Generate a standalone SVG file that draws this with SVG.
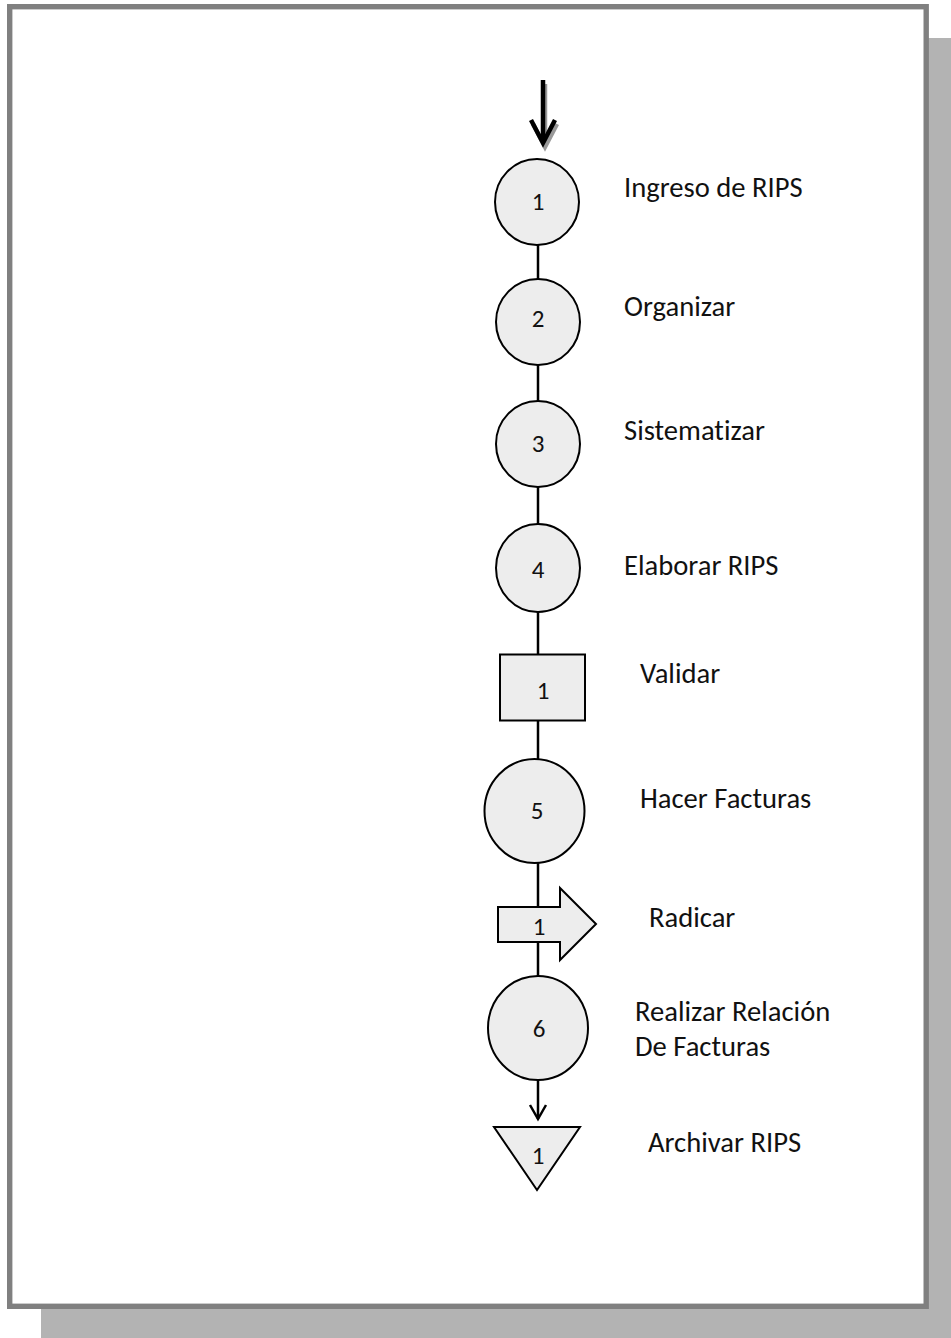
<svg xmlns="http://www.w3.org/2000/svg" width="951" height="1338" viewBox="0 0 951 1338">
<style>
.shape{fill:#ededed;stroke:#000;stroke-width:2}
.num{font-family:Carlito,Calibri,Lato,sans-serif;font-size:25px;fill:#111;text-anchor:middle}
.lbl{font-family:Carlito,Calibri,Lato,sans-serif;font-size:28.6px;fill:#111;font-variant-ligatures:none}
.conn{stroke:#000;stroke-width:2.5;fill:none}
</style>
<g id="frame">
<rect x="41" y="38" width="910" height="1300" fill="#b3b3b3"/>
<rect x="9.7" y="6.7" width="916.5" height="1299.6" fill="#fff" stroke="#808080" stroke-width="5.4"/>
</g>
<g id="connectors">
<path d="M544,81 L544,142" stroke="#999" stroke-width="4.5" fill="none" transform="translate(1,3)"/>
<path d="M532,121 L544,144 L556,121" stroke="#999" stroke-width="4.5" fill="none" transform="translate(1,3)"/>
<path d="M543,80 L543,141" stroke="#000" stroke-width="4.5" fill="none"/>
<path d="M531,120 L543,143 L555,120" stroke="#000" stroke-width="4.5" fill="none" stroke-linejoin="miter"/>
<line class="conn" x1="538" y1="244" x2="538" y2="280"/>
<line class="conn" x1="538" y1="365" x2="538" y2="402"/>
<line class="conn" x1="538" y1="486" x2="538" y2="525"/>
<line class="conn" x1="538" y1="611" x2="538" y2="655"/>
<line class="conn" x1="538" y1="720" x2="538" y2="760"/>
<line class="conn" x1="538" y1="862" x2="538" y2="942"/>
<line class="conn" x1="538" y1="941" x2="538" y2="977"/>
<line class="conn" x1="538" y1="1079" x2="538" y2="1119"/>
<path d="M530,1105 L538,1119 L546,1105" stroke="#000" stroke-width="2.5" fill="none"/>
</g>
<g id="n1"><ellipse class="shape" cx="537" cy="202" rx="42" ry="43"/><text class="num" x="538" y="210">1</text><text class="lbl" x="624" y="197">Ingreso de RIPS</text></g>
<g id="n2"><ellipse class="shape" cx="538" cy="322" rx="42" ry="43"/><text class="num" x="538" y="327">2</text><text class="lbl" x="624" y="316">Organizar</text></g>
<g id="n3"><ellipse class="shape" cx="538" cy="444" rx="42" ry="43"/><text class="num" x="538" y="452">3</text><text class="lbl" x="624" y="440">Sistematizar</text></g>
<g id="n4"><ellipse class="shape" cx="538" cy="568" rx="42" ry="44"/><text class="num" x="538" y="578">4</text><text class="lbl" x="624" y="575">Elaborar RIPS</text></g>
<g id="i1"><rect class="shape" x="500" y="654.5" width="85" height="66"/><text class="num" x="543" y="699">1</text><text class="lbl" x="640" y="683">Validar</text></g>
<g id="n5"><ellipse class="shape" cx="534.5" cy="811" rx="50" ry="52"/><text class="num" x="537" y="819">5</text><text class="lbl" x="640" y="808">Hacer Facturas</text></g>
<g id="t1"><path class="shape" d="M498,907 L560,907 L560,888 L596,924 L560,960 L560,942 L498,942 Z"/><text class="num" x="539" y="935">1</text><text class="lbl" x="649" y="927">Radicar</text></g>
<g id="n6"><ellipse class="shape" cx="538" cy="1028" rx="50" ry="52"/><text class="num" x="539" y="1037">6</text><text class="lbl" x="635" y="1021">Realizar Relación</text><text class="lbl" x="635" y="1056">De Facturas</text></g>
<g id="a1"><path class="shape" d="M494,1127 L580,1127 L537,1190 Z"/><text class="num" x="538" y="1164">1</text><text class="lbl" x="648" y="1152">Archivar RIPS</text></g>
</svg>
